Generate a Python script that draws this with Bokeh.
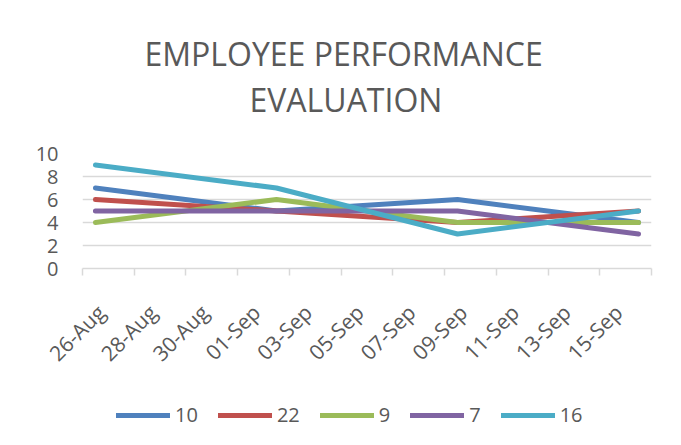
import math
from datetime import date
from bokeh.plotting import figure
from bokeh.layouts import column
from bokeh.models import (ColumnDataSource, FixedTicker, Title, Legend, LegendItem,
                          Range1d)
from bokeh.embed import file_html
from bokeh.resources import INLINE

# ---- data -----------------------------------------------------------------
dates = [date(2019, 8, 26), date(2019, 9, 2), date(2019, 9, 9), date(2019, 9, 16)]
series_names = ["10", "22", "9", "7", "16"]
s10 = [7, 5, 6, 4]
s22 = [6, 5, 4, 5]
s9 = [4, 6, 4, 4]
s7 = [5, 5, 5, 3]
s16 = [9, 7, 3, 5]
series_values = [s10, s22, s9, s7, s16]
colors = ["#4F81BD", "#C0504D", "#9BBB59", "#8064A2", "#4BACC6"]

tick_labels = ["26-Aug", "28-Aug", "30-Aug", "01-Sep", "03-Sep", "05-Sep",
               "07-Sep", "09-Sep", "11-Sep", "13-Sep", "15-Sep"]
title_lines = ["EMPLOYEE PERFORMANCE", "EVALUATION"]
start = date(2019, 8, 26)
n_days = 22  # 26-Aug .. 16-Sep

# day index (centre of day)
xs = [(d - start).days + 0.5 for d in dates]

TXT = "#595959"
GRID = "#D9D9D9"
FONT = "Open Sans"

p = figure(width=681, height=385, output_backend="svg", toolbar_location=None,
           x_range=Range1d(0, n_days), y_range=Range1d(0, 10),
           min_border_left=82, min_border_right=30, min_border_top=153,
           min_border_bottom=117)
p.outline_line_color = None
p.background_fill_color = "white"
p.border_fill_color = "white"

for name, vals, c in zip(series_names, series_values, colors):
    src = ColumnDataSource(dict(x=xs, y=vals))
    p.line("x", "y", source=src, line_color=c, line_width=5,
           line_cap="round", line_join="round")

# x axis
label_pos = [i * 2 + 0.72 for i in range(len(tick_labels))]
p.xaxis.ticker = FixedTicker(ticks=label_pos,
                             minor_ticks=[i * 2 for i in range(n_days // 2 + 1)])
p.xaxis.major_label_overrides = {pos: lab for pos, lab in zip(label_pos, tick_labels)}
p.xaxis.major_label_orientation = math.pi / 4
p.xaxis.major_tick_line_color = None
p.xaxis.major_tick_out = 0
p.xaxis.major_tick_in = 0
p.xaxis.minor_tick_line_color = GRID
p.xaxis.minor_tick_line_width = 1.5
p.xaxis.minor_tick_out = 7
p.xaxis.minor_tick_in = 0
p.xaxis.axis_line_color = GRID
p.xaxis.axis_line_width = 1.5
p.xaxis.major_label_standoff = 33
p.xaxis.major_label_text_font = FONT
p.xaxis.major_label_text_font_size = "21px"
p.xaxis.major_label_text_color = TXT

# y axis
p.yaxis.ticker = FixedTicker(ticks=[0, 2, 4, 6, 8, 10])
p.yaxis.axis_line_color = None
p.yaxis.major_tick_line_color = None
p.yaxis.minor_tick_line_color = None
p.yaxis.major_tick_out = 0
p.yaxis.major_tick_in = 0
p.yaxis.major_label_standoff = 24
p.yaxis.major_label_text_font = FONT
p.yaxis.major_label_text_font_size = "20px"
p.yaxis.major_label_text_color = TXT

p.xgrid.grid_line_color = None
p.ygrid.grid_line_color = GRID
p.ygrid.grid_line_width = 1.5

# title (two lines; first added sits closest to the frame)
p.add_layout(Title(text=title_lines[1], align="left", offset=167, standoff=65,
                   text_font=FONT, text_font_size="32px", text_color=TXT,
                   text_font_style="normal"), "above")
p.add_layout(Title(text=title_lines[0], align="left", offset=62, standoff=-63,
                   text_font=FONT, text_font_size="32px", text_color=TXT,
                   text_font_style="normal"), "above")

# legend strip below the chart (series drawn outside its view; only the key shows)
leg = figure(width=681, height=60, output_backend="svg", toolbar_location=None,
             x_range=Range1d(0, 1), y_range=Range1d(-2, -1),
             x_axis_location=None, y_axis_location=None,
             min_border=0)
leg.outline_line_color = None
leg.xgrid.grid_line_color = None
leg.ygrid.grid_line_color = None
items = []
for name, vals, c in zip(series_names, series_values, colors):
    src = ColumnDataSource(dict(x=xs, y=vals))
    r = leg.line("x", "y", source=src, line_color=c, line_width=5,
                 line_cap="round", line_join="round")
    items.append(LegendItem(label=name, renderers=[r]))

legend = Legend(items=items, orientation="horizontal", location=(34, 17),
                glyph_width=54, glyph_height=20, label_standoff=5, spacing=20,
                padding=0, margin=0, border_line_color=None,
                background_fill_alpha=0, label_text_font=FONT,
                label_text_font_size="20px", label_text_color=TXT,
                label_height=20, label_width=5)
leg.add_layout(legend, "center")

open("out.html", "w").write(file_html(column(p, leg, spacing=0), INLINE))
